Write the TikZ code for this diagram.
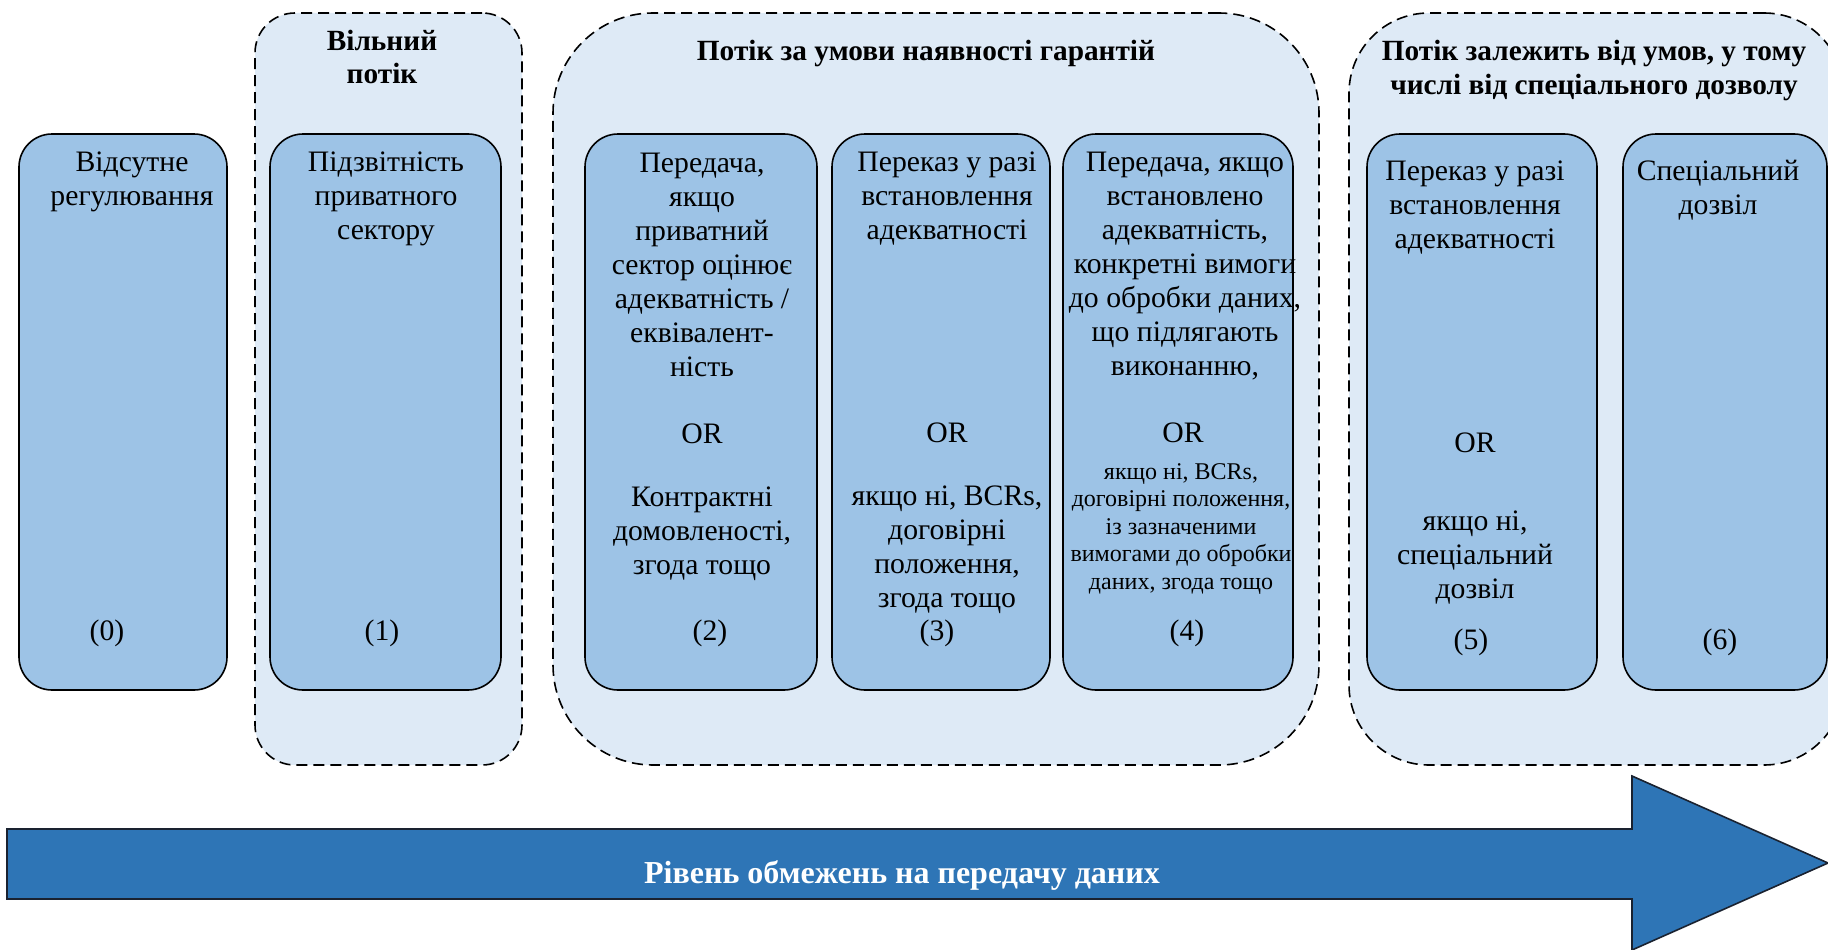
\documentclass[tikz,border=0pt]{standalone}
\usepackage{fontspec}
\setmainfont{Liberation Serif}
\definecolor{boxblue}{HTML}{9DC3E6}
\definecolor{groupblue}{HTML}{DEEAF6}
\definecolor{arrowblue}{HTML}{2E75B6}
\definecolor{arrowedge}{HTML}{1A2230}

% one centred text line per entry, baselines #4 apart
\newcommand\rowstack[5]{%
  \foreach \rowtext [count=\k from 0] in {#5}
    \node[anchor=base] (#1-\k) at (#2, {#3+\k*#4}) {\rowtext};}

\tikzset{
  stage/.style={draw=black, line width=1.6pt, fill=boxblue, rounded corners=33pt,
    inner sep=0pt, outer sep=0pt, minimum height=556pt},
  flowgroup/.style={draw=black, line width=1.6pt, dash pattern=on 11pt off 6pt,
    fill=groupblue, inner sep=0pt, outer sep=0pt, minimum height=752pt},
  body/.style={font=\fontsize{29.7pt}{34pt}\selectfont, inner sep=0pt},
  small/.style={font=\fontsize{24pt}{27.5pt}\selectfont, inner sep=0pt},
  heading/.style={font=\fontsize{29.3pt}{34pt}\selectfont\bfseries, inner sep=0pt},
}

\begin{document}
\begin{tikzpicture}[x=1pt, y=-1pt]
\useasboundingbox (0,0) rectangle (1828,950);
\clip (0,0) rectangle (1828,950);

% dashed groups
\node[flowgroup, rounded corners=40pt, minimum width=267pt] (g1) at (388.5,389) {};
\node[flowgroup, rounded corners=100pt, minimum width=766pt] (g2) at (936,389) {};
\node[flowgroup, rounded corners=80pt, minimum width=495pt] (g3) at (1596.5,389) {};

% stage boxes
\node[stage, minimum width=208pt] (b0) at (123,412) {};
\node[stage, minimum width=231pt] (b1) at (385.5,412) {};
\node[stage, minimum width=232pt] (b2) at (701,412) {};
\node[stage, minimum width=218pt] (b3) at (941,412) {};
\node[stage, minimum width=230pt] (b4) at (1178,412) {};
\node[stage, minimum width=230pt] (b5) at (1482,412) {};
\node[stage, minimum width=204pt] (b6) at (1725,412) {};

% group headings
\begin{scope}[every node/.style={heading}]
  \rowstack{h1}{382}{51}{33}{Вільний,потік}
  \rowstack{h2}{926}{61}{34}{Потік за умови наявності гарантій}
  \rowstack{h3}{1594}{61}{34}{{Потік залежить від умов, у тому},{числі від спеціального дозволу}}
\end{scope}

% box texts
\begin{scope}[every node/.style={body}]
  \rowstack{t0}{132}{171}{34}{Відсутне,регулювання}
  \node[anchor=base] (n0) at (107,640) {(0)};

  \rowstack{t1}{386}{171}{34}{Підзвітність,приватного,сектору}
  \node[anchor=base] (n1) at (382,640) {(1)};

  \rowstack{t2}{702}{172}{34}{{Передача,},якщо,приватний,сектор оцінює,адекватність /,еквівалент-,ність}
  \node[anchor=base] (o2) at (702,443) {OR};
  \rowstack{u2}{702}{506}{34}{Контрактні,{домовленості,},згода тощо}
  \node[anchor=base] (n2) at (710,640) {(2)};

  \rowstack{t3}{947}{171}{34}{Переказ у разі,встановлення,адекватності}
  \node[anchor=base] (o3) at (947,442) {OR};
  \rowstack{u3}{947}{505}{34}{{якщо ні, BCRs,},договірні,{положення,},згода тощо}
  \node[anchor=base] (n3) at (937,640) {(3)};

  \rowstack{t4}{1185}{171}{34}{{Передача, якщо},встановлено,{адекватність,},конкретні вимоги,{до обробки даних,},що підлягають,{виконанню,}}
  \node[anchor=base] (o4) at (1183,442) {OR};
  \node[anchor=base] (n4) at (1187,640) {(4)};

  \rowstack{t5}{1475}{180}{34}{Переказ у разі,встановлення,адекватності}
  \node[anchor=base] (o5) at (1475,452) {OR};
  \rowstack{u5}{1475}{530}{34}{{якщо ні,},спеціальний,дозвіл}
  \node[anchor=base] (n5) at (1471,649) {(5)};

  \rowstack{t6}{1718}{180}{34}{Спеціальний,дозвіл}
  \node[anchor=base] (n6) at (1720,649) {(6)};
\end{scope}

\begin{scope}[every node/.style={small}]
  \rowstack{u4}{1181}{479}{27.5}{{якщо ні, BCRs,},{договірні положення,},із зазначеними,вимогами до обробки,{даних, згода тощо}}
\end{scope}

% restriction-level arrow
\coordinate (a1) at (7,829);
\coordinate (a2) at (1632,829);
\coordinate (a3) at (1632,776);
\coordinate (tip) at (1828,863);
\coordinate (a5) at (1632,950);
\coordinate (a6) at (1632,899);
\coordinate (a7) at (7,899);
\draw[fill=arrowblue, draw=arrowedge, line width=1.6pt, line join=miter]
  (a1) -- (a2) -- (a3) -- (tip) -- (a5) -- (a6) -- (a7) -- cycle;
\node[heading, font=\fontsize{32pt}{36pt}\selectfont\bfseries, text=white, anchor=base] (lvl) at (902,883) {Рівень обмежень на передачу даних};
\end{tikzpicture}
\end{document}
